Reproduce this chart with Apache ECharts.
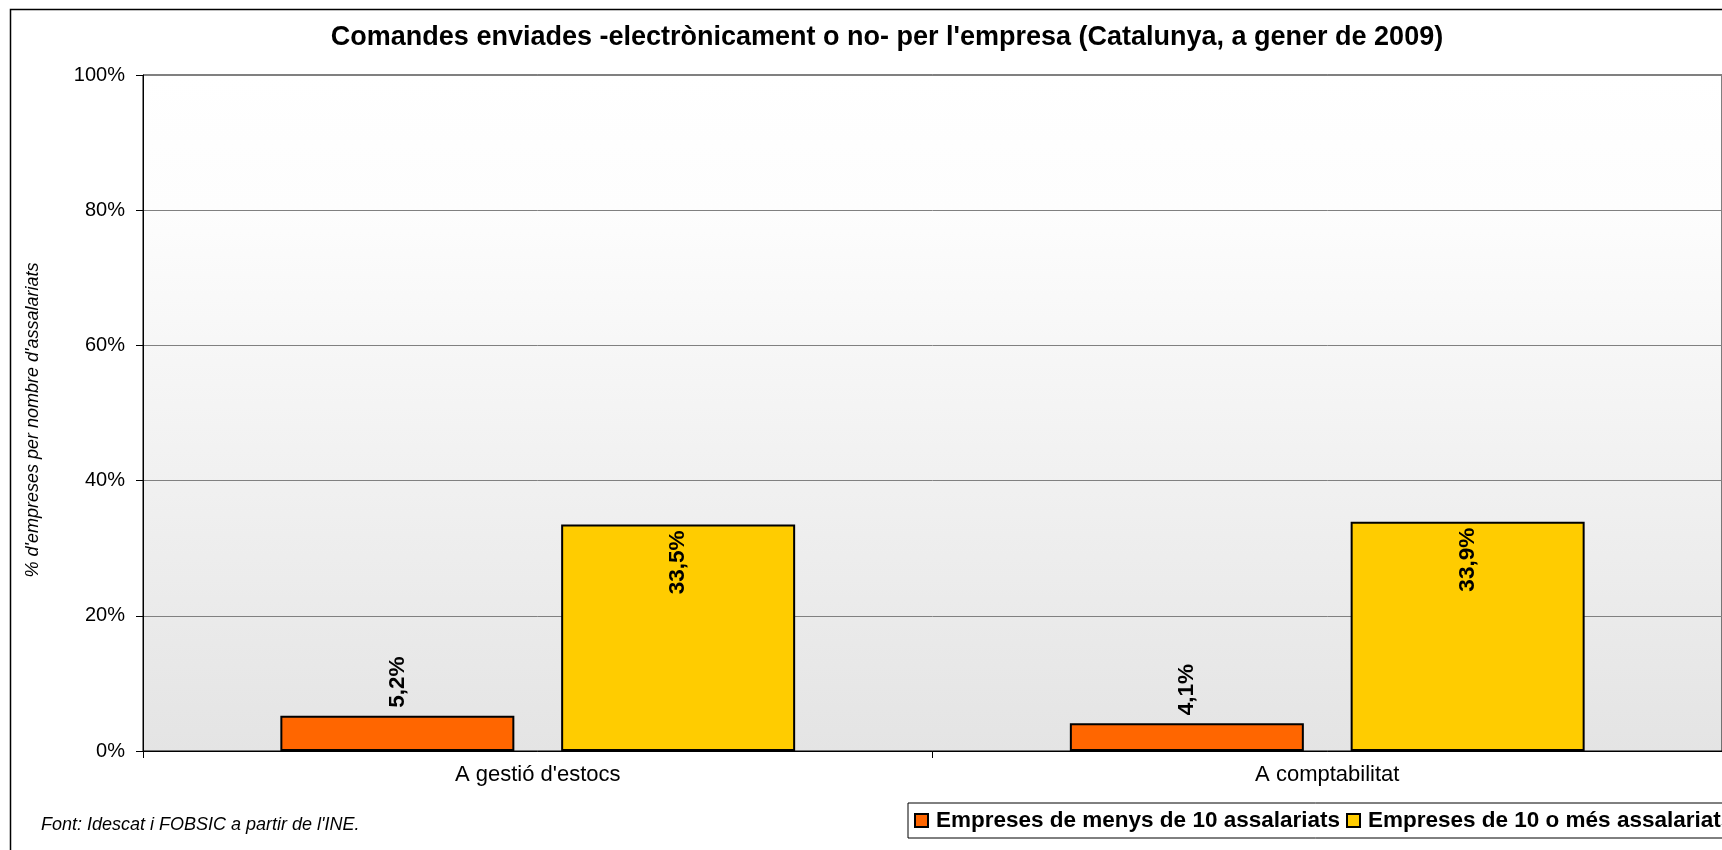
<!DOCTYPE html>
<html>
<head>
<meta charset="utf-8">
<script src="https://cdn.jsdelivr.net/npm/echarts@6/dist/echarts.min.js"></script>
<style>
  html, body { margin: 0; padding: 0; background: #fff; }
  #chart { width: 1722px; height: 850px; }
</style>
</head>
<body>
<div id="chart"></div>
<script>
const TITLE = "Comandes enviades -electrònicament o no- per l'empresa (Catalunya, a gener de 2009)"
const SOURCE = "Font: Idescat i FOBSIC a partir de l'INE."
const Y_NAME = "% d'empreses per nombre d'assalariats"

const categories = ["A gestió d'estocs", 'A comptabilitat']
const seriesNames = ['Empreses de menys de 10 assalariats', 'Empreses de 10 o més assalariats']
const smallFirms = [5.2, 4.1]
const largeFirms = [33.5, 33.9]
const yTicks = [0, 20, 40, 60, 80, 100]

const FONT = "'Liberation Sans', Arial, sans-serif"

const fmtPct = (v) => String(v).replace('.', ',') + '%'

const chart = echarts.init(document.getElementById('chart'), null, { renderer: 'canvas' })

chart.setOption({
  backgroundColor: '#ffffff',
  animation: false,
  textStyle: { fontFamily: FONT },
  graphic: [
    {
      type: 'rect',
      left: 8, top: 7,
      shape: { width: 1760, height: 900 },
      style: { fill: 'none', stroke: '#000', lineWidth: 1.5 },
      silent: true, z: -1
    },
    {
      type: 'text',
      x: 887, y: 38,
      style: {
        text: TITLE, fontFamily: FONT, fontSize: 27, fontWeight: 'bold',
        fill: '#000', align: 'center', verticalAlign: 'middle'
      }
    },
    {
      type: 'text',
      x: 33, y: 420,
      rotation: Math.PI / 2,
      style: {
        text: Y_NAME, fontFamily: FONT, fontSize: 18, fontStyle: 'italic',
        fill: '#000', align: 'center', verticalAlign: 'middle'
      }
    },
    {
      type: 'text',
      x: 41, y: 825,
      style: {
        text: SOURCE, fontFamily: FONT, fontSize: 18, fontStyle: 'italic',
        fill: '#000', align: 'left', verticalAlign: 'middle'
      }
    }
  ],
  grid: {
    left: 143, top: 75, width: 1588, height: 676,
    show: true,
    borderColor: '#000', borderWidth: 1,
    backgroundColor: {
      type: 'linear', x: 0, y: 0, x2: 0, y2: 1,
      colorStops: [
        { offset: 0, color: '#ffffff' },
        { offset: 0.2, color: '#fdfdfd' },
        { offset: 1, color: '#e4e4e4' }
      ]
    },
    containLabel: false
  },
  legend: {
    left: 908, top: 803,
    width: 1200,
    data: seriesNames,
    backgroundColor: '#fff',
    borderColor: '#000', borderWidth: 1,
    padding: [6, 8, 6, 6],
    itemWidth: 13, itemHeight: 13,
    itemGap: 6,
    icon: 'rect',
    textStyle: {
      fontFamily: FONT, fontSize: 22.5, fontWeight: 'bold', color: '#000',
      padding: [0, 0, 0, 3]
    }
  },
  xAxis: {
    type: 'category',
    data: categories,
    axisLine: { lineStyle: { color: '#000', width: 1 } },
    axisTick: { show: true, length: 7, lineStyle: { color: '#000' } },
    axisLabel: { color: '#000', fontSize: 22, margin: 13, fontFamily: FONT },
    splitLine: { show: false }
  },
  yAxis: {
    type: 'value',
    min: 0, max: 100, interval: 20,
    axisLine: { show: true, lineStyle: { color: '#000', width: 1 } },
    axisTick: { show: true, length: 7, lineStyle: { color: '#000' } },
    axisLabel: {
      color: '#000', fontSize: 20, margin: 18, fontFamily: FONT,
      formatter: (v) => yTicks.includes(v) ? v + '%' : ''
    },
    splitLine: { show: true, lineStyle: { color: '#808080', width: 1 } }
  },
  series: [
    {
      name: seriesNames[0],
      type: 'bar',
      data: smallFirms,
      barWidth: 234,
      barGap: '20%',
      itemStyle: { color: '#ff6600', borderColor: '#000', borderWidth: 2 },
      label: {
        show: true, position: 'top', rotate: 90, distance: 8,
        align: 'left', verticalAlign: 'middle',
        fontFamily: FONT, fontSize: 22.5, fontWeight: 'bold', color: '#000',
        formatter: (p) => fmtPct(p.value)
      }
    },
    {
      name: seriesNames[1],
      type: 'bar',
      data: largeFirms,
      barWidth: 234,
      barGap: '20%',
      itemStyle: { color: '#ffcc00', borderColor: '#000', borderWidth: 2 },
      label: {
        show: true, position: 'insideTop', rotate: 90, distance: 6,
        align: 'right', verticalAlign: 'middle',
        fontFamily: FONT, fontSize: 22.5, fontWeight: 'bold', color: '#000',
        formatter: (p) => fmtPct(p.value)
      }
    }
  ]
})
</script>
</body>
</html>
